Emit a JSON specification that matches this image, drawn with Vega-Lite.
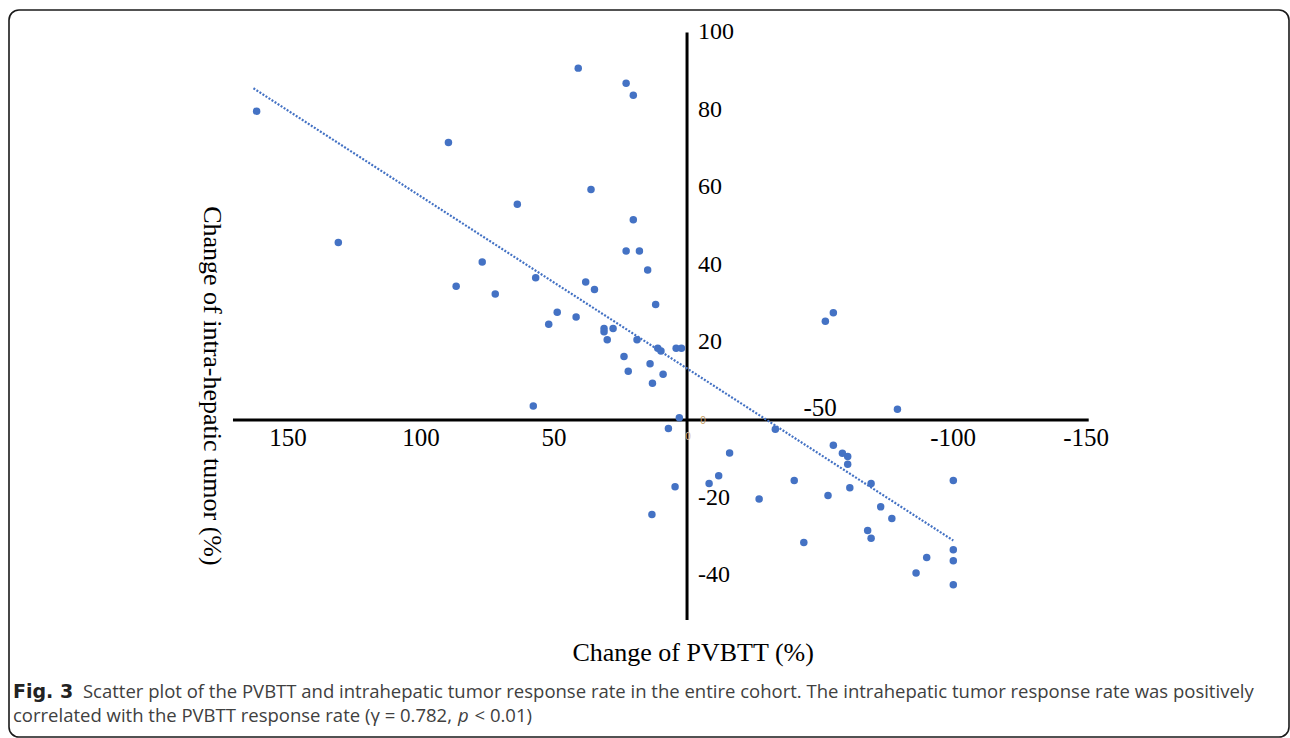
{
  "$schema": "https://vega.github.io/schema/vega-lite/v6.json",
  "width": 1280,
  "height": 727,
  "autosize": {"type": "none"},
  "padding": {"left": 9, "top": 10, "right": 1, "bottom": 1},
  "background": "white",
  "config": {
    "view": {"stroke": "#1a1a1a", "strokeWidth": 1.6, "cornerRadius": 10},
    "axis": {"disable": true}
  },
  "datasets": {
    "points": [
      {"pvbtt": 161.8, "tumor": 79.7}, {"pvbtt": 131.1, "tumor": 45.8}, {"pvbtt": 89.7, "tumor": 71.6},
      {"pvbtt": 86.8, "tumor": 34.5}, {"pvbtt": 77.0, "tumor": 40.8}, {"pvbtt": 72.1, "tumor": 32.5},
      {"pvbtt": 63.8, "tumor": 55.7}, {"pvbtt": 57.8, "tumor": 3.6}, {"pvbtt": 56.9, "tumor": 36.7},
      {"pvbtt": 52.0, "tumor": 24.7}, {"pvbtt": 48.8, "tumor": 27.8}, {"pvbtt": 41.7, "tumor": 26.6},
      {"pvbtt": 40.9, "tumor": 90.8}, {"pvbtt": 38.1, "tumor": 35.6}, {"pvbtt": 36.1, "tumor": 59.5},
      {"pvbtt": 34.8, "tumor": 33.7}, {"pvbtt": 31.2, "tumor": 23.6}, {"pvbtt": 31.2, "tumor": 22.8},
      {"pvbtt": 30.0, "tumor": 20.7}, {"pvbtt": 27.8, "tumor": 23.6}, {"pvbtt": 23.7, "tumor": 16.4},
      {"pvbtt": 22.9, "tumor": 86.9}, {"pvbtt": 22.9, "tumor": 43.6}, {"pvbtt": 22.1, "tumor": 12.6},
      {"pvbtt": 20.2, "tumor": 83.8}, {"pvbtt": 20.2, "tumor": 51.7}, {"pvbtt": 18.8, "tumor": 20.7},
      {"pvbtt": 17.9, "tumor": 43.6}, {"pvbtt": 14.8, "tumor": 38.7}, {"pvbtt": 13.9, "tumor": 14.5},
      {"pvbtt": 13.2, "tumor": -24.4}, {"pvbtt": 13.0, "tumor": 9.5}, {"pvbtt": 11.8, "tumor": 29.8},
      {"pvbtt": 11.0, "tumor": 18.5}, {"pvbtt": 9.8, "tumor": 17.8}, {"pvbtt": 9.0, "tumor": 11.8},
      {"pvbtt": 7.0, "tumor": -2.2}, {"pvbtt": 4.5, "tumor": -17.2}, {"pvbtt": 4.1, "tumor": 18.5},
      {"pvbtt": 2.9, "tumor": 0.6}, {"pvbtt": 2.1, "tumor": 18.5}, {"pvbtt": -8.3, "tumor": -16.4},
      {"pvbtt": -11.9, "tumor": -14.4}, {"pvbtt": -16.0, "tumor": -8.5}, {"pvbtt": -27.1, "tumor": -20.4},
      {"pvbtt": -33.2, "tumor": -2.4}, {"pvbtt": -40.3, "tumor": -15.6}, {"pvbtt": -43.9, "tumor": -31.6},
      {"pvbtt": -52.0, "tumor": 25.5}, {"pvbtt": -53.0, "tumor": -19.5}, {"pvbtt": -55.0, "tumor": 27.7},
      {"pvbtt": -55.0, "tumor": -6.5}, {"pvbtt": -58.4, "tumor": -8.6}, {"pvbtt": -60.4, "tumor": -9.4},
      {"pvbtt": -60.4, "tumor": -11.4}, {"pvbtt": -61.2, "tumor": -17.5}, {"pvbtt": -67.9, "tumor": -28.5},
      {"pvbtt": -69.2, "tumor": -16.4}, {"pvbtt": -69.2, "tumor": -30.5}, {"pvbtt": -72.8, "tumor": -22.4},
      {"pvbtt": -77.0, "tumor": -25.4}, {"pvbtt": -79.1, "tumor": 2.8}, {"pvbtt": -86.1, "tumor": -39.5},
      {"pvbtt": -90.1, "tumor": -35.5}, {"pvbtt": -100.1, "tumor": -15.6}, {"pvbtt": -100.1, "tumor": -33.5},
      {"pvbtt": -100.1, "tumor": -36.3}, {"pvbtt": -100.1, "tumor": -42.5}
    ],
    "trend": [{"pvbtt": 163.0, "tumor": 85.6}, {"pvbtt": -100.1, "tumor": -31.1}],
    "xticks": [
      {"v": 150, "label": "150"}, {"v": 100, "label": "100"}, {"v": 50, "label": "50"},
      {"v": -50, "label": "-50"}, {"v": -100, "label": "-100"}, {"v": -150, "label": "-150"}
    ],
    "yticks": [
      {"v": 100, "label": "100"}, {"v": 80, "label": "80"}, {"v": 60, "label": "60"},
      {"v": 40, "label": "40"}, {"v": 20, "label": "20"}, {"v": -20, "label": "-20"}, {"v": -40, "label": "-40"}
    ],
    "one": [{}]
  },
  "layer": [
    {
      "data": {"name": "one"},
      "mark": {"type": "rule", "color": "#000000", "strokeWidth": 3},
      "encoding": {
        "x": {"datum": 170.7, "type": "quantitative", "scale": {"domain": [-226.3, 254.9], "reverse": true, "nice": false, "zero": false}},
        "x2": {"datum": -151},
        "y": {"datum": 0, "type": "quantitative", "scale": {"domain": [-81.8, 105.8], "nice": false, "zero": false}}
      }
    },
    {
      "data": {"name": "one"},
      "mark": {"type": "rule", "color": "#000000", "strokeWidth": 3},
      "encoding": {
        "x": {"datum": 0, "type": "quantitative", "scale": {"domain": [-226.3, 254.9], "reverse": true, "nice": false, "zero": false}},
        "y": {"datum": 100, "type": "quantitative", "scale": {"domain": [-81.8, 105.8], "nice": false, "zero": false}},
        "y2": {"datum": -51.6}
      }
    },
    {
      "data": {"name": "trend"},
      "mark": {"type": "line", "color": "#4472C4", "strokeWidth": 2.2, "strokeDash": [2, 1.6]},
      "encoding": {
        "x": {"field": "pvbtt", "type": "quantitative", "scale": {"domain": [-226.3, 254.9], "reverse": true, "nice": false, "zero": false}},
        "y": {"field": "tumor", "type": "quantitative", "scale": {"domain": [-81.8, 105.8], "nice": false, "zero": false}}
      }
    },
    {
      "data": {"name": "points"},
      "mark": {"type": "circle", "size": 56, "color": "#4472C4", "opacity": 1},
      "encoding": {
        "x": {"field": "pvbtt", "type": "quantitative", "scale": {"domain": [-226.3, 254.9], "reverse": true, "nice": false, "zero": false}},
        "y": {"field": "tumor", "type": "quantitative", "scale": {"domain": [-81.8, 105.8], "nice": false, "zero": false}}
      }
    },
    {
      "data": {"name": "xticks"},
      "transform": [{"filter": "datum.v != -50"}],
      "mark": {"type": "text", "font": "Liberation Serif", "fontSize": 25, "color": "#000000", "align": "center", "baseline": "middle", "dy": 17.5},
      "encoding": {
        "x": {"field": "v", "type": "quantitative", "scale": {"domain": [-226.3, 254.9], "reverse": true, "nice": false, "zero": false}},
        "y": {"datum": 0, "type": "quantitative", "scale": {"domain": [-81.8, 105.8], "nice": false, "zero": false}},
        "text": {"field": "label"}
      }
    },
    {
      "data": {"name": "xticks"},
      "transform": [{"filter": "datum.v == -50"}],
      "mark": {"type": "text", "font": "Liberation Serif", "fontSize": 25, "color": "#000000", "align": "center", "baseline": "middle", "dy": -12.5},
      "encoding": {
        "x": {"field": "v", "type": "quantitative", "scale": {"domain": [-226.3, 254.9], "reverse": true, "nice": false, "zero": false}},
        "y": {"datum": 0, "type": "quantitative", "scale": {"domain": [-81.8, 105.8], "nice": false, "zero": false}},
        "text": {"field": "label"}
      }
    },
    {
      "data": {"name": "yticks"},
      "mark": {"type": "text", "font": "Liberation Serif", "fontSize": 24, "color": "#000000", "align": "left", "baseline": "middle", "dx": 11},
      "encoding": {
        "x": {"datum": 0, "type": "quantitative", "scale": {"domain": [-226.3, 254.9], "reverse": true, "nice": false, "zero": false}},
        "y": {"field": "v", "type": "quantitative", "scale": {"domain": [-81.8, 105.8], "nice": false, "zero": false}},
        "text": {"field": "label"}
      }
    },
    {
      "data": {"name": "one"},
      "mark": {"type": "text", "text": "0", "font": "Liberation Sans", "fontSize": 10, "color": "#c49a62", "align": "center", "baseline": "middle"},
      "encoding": {
        "x": {"datum": -6.0, "type": "quantitative", "scale": {"domain": [-226.3, 254.9], "reverse": true, "nice": false, "zero": false}},
        "y": {"datum": -0.3, "type": "quantitative", "scale": {"domain": [-81.8, 105.8], "nice": false, "zero": false}}
      }
    },
    {
      "data": {"name": "one"},
      "mark": {"type": "text", "text": "0", "font": "Liberation Sans", "fontSize": 10, "color": "#d9b890", "align": "center", "baseline": "middle"},
      "encoding": {
        "x": {"datum": -0.4, "type": "quantitative", "scale": {"domain": [-226.3, 254.9], "reverse": true, "nice": false, "zero": false}},
        "y": {"datum": -4.4, "type": "quantitative", "scale": {"domain": [-81.8, 105.8], "nice": false, "zero": false}}
      }
    },
    {
      "data": {"name": "one"},
      "mark": {"type": "text", "text": "Change of PVBTT (%)", "font": "Liberation Serif", "fontSize": 26, "color": "#000000", "align": "center", "baseline": "middle"},
      "encoding": {
        "x": {"datum": -2.3, "type": "quantitative", "scale": {"domain": [-226.3, 254.9], "reverse": true, "nice": false, "zero": false}},
        "y": {"datum": -60.1, "type": "quantitative", "scale": {"domain": [-81.8, 105.8], "nice": false, "zero": false}}
      }
    },
    {
      "data": {"name": "one"},
      "mark": {"type": "text", "text": "Change of intra-hepatic tumor (%)", "font": "Liberation Serif", "fontSize": 26, "color": "#000000", "align": "center", "baseline": "middle", "angle": 90},
      "encoding": {
        "x": {"datum": 178.6, "type": "quantitative", "scale": {"domain": [-226.3, 254.9], "reverse": true, "nice": false, "zero": false}},
        "y": {"datum": 8.8, "type": "quantitative", "scale": {"domain": [-81.8, 105.8], "nice": false, "zero": false}}
      }
    },
    {
      "data": {"name": "one"},
      "mark": {"type": "text", "text": "Fig. 3", "font": "DejaVu Sans", "fontWeight": "bold", "fontSize": 19, "color": "#222222", "align": "left", "baseline": "middle"},
      "encoding": {
        "x": {"datum": 253.4, "type": "quantitative", "scale": {"domain": [-226.3, 254.9], "reverse": true, "nice": false, "zero": false}},
        "y": {"datum": -70.2, "type": "quantitative", "scale": {"domain": [-81.8, 105.8], "nice": false, "zero": false}}
      }
    },
    {
      "data": {"name": "one"},
      "mark": {"type": "text", "text": "Scatter plot of the PVBTT and intrahepatic tumor response rate in the entire cohort. The intrahepatic tumor response rate was positively", "font": "Open Sans", "fontSize": 18.5, "color": "#404040", "align": "left", "baseline": "middle"},
      "encoding": {
        "x": {"datum": 227.1, "type": "quantitative", "scale": {"domain": [-226.3, 254.9], "reverse": true, "nice": false, "zero": false}},
        "y": {"datum": -70.2, "type": "quantitative", "scale": {"domain": [-81.8, 105.8], "nice": false, "zero": false}}
      }
    },
    {
      "data": {"name": "one"},
      "mark": {"type": "text", "text": "correlated with the PVBTT response rate (γ = 0.782,", "font": "Open Sans", "fontSize": 18.5, "color": "#404040", "align": "left", "baseline": "middle"},
      "encoding": {
        "x": {"datum": 253.4, "type": "quantitative", "scale": {"domain": [-226.3, 254.9], "reverse": true, "nice": false, "zero": false}},
        "y": {"datum": -76.4, "type": "quantitative", "scale": {"domain": [-81.8, 105.8], "nice": false, "zero": false}}
      }
    },
    {
      "data": {"name": "one"},
      "mark": {"type": "text", "text": "p", "font": "Open Sans", "fontStyle": "italic", "fontSize": 18.5, "color": "#404040", "align": "left", "baseline": "middle"},
      "encoding": {
        "x": {"datum": 86.1, "type": "quantitative", "scale": {"domain": [-226.3, 254.9], "reverse": true, "nice": false, "zero": false}},
        "y": {"datum": -76.4, "type": "quantitative", "scale": {"domain": [-81.8, 105.8], "nice": false, "zero": false}}
      }
    },
    {
      "data": {"name": "one"},
      "mark": {"type": "text", "text": "< 0.01)", "font": "Open Sans", "fontSize": 18.5, "color": "#404040", "align": "left", "baseline": "middle"},
      "encoding": {
        "x": {"datum": 79.9, "type": "quantitative", "scale": {"domain": [-226.3, 254.9], "reverse": true, "nice": false, "zero": false}},
        "y": {"datum": -76.4, "type": "quantitative", "scale": {"domain": [-81.8, 105.8], "nice": false, "zero": false}}
      }
    }
  ]
}
